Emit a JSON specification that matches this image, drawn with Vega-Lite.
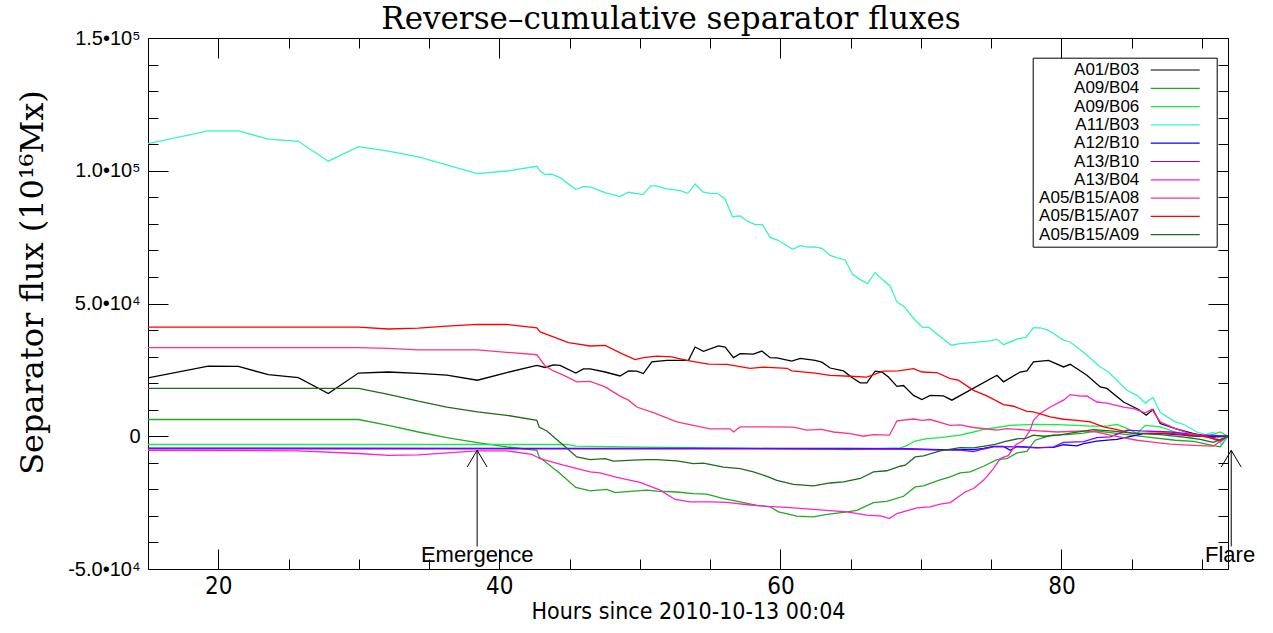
{
"$schema": "https://vega.github.io/schema/vega-lite/v6.json",
"width": 1080, "height": 531,
"autosize": {"type": "none"},
"padding": {"left": 148, "top": 38, "right": 45, "bottom": 64},
"background": "white",
"title": {"text": "Reverse–cumulative separator fluxes", "font": "DejaVu Serif", "fontSize": 31, "fontWeight": "normal", "color": "black", "anchor": "middle", "dx": -17, "offset": -8},
"datasets": {
"flux": [
{"s":"A01/B03","h":15,"v":22000},{"s":"A01/B03","h":19.29,"v":26400},{"s":"A01/B03","h":21.43,"v":26300},{"s":"A01/B03","h":23.56,"v":23200},{"s":"A01/B03","h":25.7,"v":22100},{"s":"A01/B03","h":27.83,"v":16100},{"s":"A01/B03","h":29.97,"v":23800},{"s":"A01/B03","h":32.1,"v":24200},{"s":"A01/B03","h":34.24,"v":23700},{"s":"A01/B03","h":36.26,"v":23000},{"s":"A01/B03","h":38.44,"v":21100},{"s":"A01/B03","h":40.53,"v":24000},{"s":"A01/B03","h":42.67,"v":26700},{"s":"A01/B03","h":43.26,"v":25900},{"s":"A01/B03","h":43.85,"v":26900},{"s":"A01/B03","h":44.32,"v":26700},{"s":"A01/B03","h":45.44,"v":23800},{"s":"A01/B03","h":45.98,"v":25400},{"s":"A01/B03","h":46.46,"v":25400},{"s":"A01/B03","h":47.53,"v":24200},{"s":"A01/B03","h":48.59,"v":22700},{"s":"A01/B03","h":49.19,"v":24600},{"s":"A01/B03","h":49.78,"v":24500},{"s":"A01/B03","h":50.25,"v":23600},{"s":"A01/B03","h":50.85,"v":28000},{"s":"A01/B03","h":51.92,"v":28600},{"s":"A01/B03","h":52.87,"v":28600},{"s":"A01/B03","h":53.46,"v":28600},{"s":"A01/B03","h":53.93,"v":33600},{"s":"A01/B03","h":54.52,"v":32000},{"s":"A01/B03","h":55.59,"v":34000},{"s":"A01/B03","h":56.07,"v":33600},{"s":"A01/B03","h":56.66,"v":29600},{"s":"A01/B03","h":57.14,"v":31100},{"s":"A01/B03","h":58.08,"v":30900},{"s":"A01/B03","h":58.68,"v":32100},{"s":"A01/B03","h":59.27,"v":29600},{"s":"A01/B03","h":59.75,"v":29500},{"s":"A01/B03","h":60.81,"v":28300},{"s":"A01/B03","h":61.41,"v":29300},{"s":"A01/B03","h":62.47,"v":28600},{"s":"A01/B03","h":62.95,"v":27900},{"s":"A01/B03","h":63.54,"v":25700},{"s":"A01/B03","h":64.49,"v":24600},{"s":"A01/B03","h":65.09,"v":22100},{"s":"A01/B03","h":65.68,"v":20100},{"s":"A01/B03","h":66.15,"v":20100},{"s":"A01/B03","h":66.74,"v":24500},{"s":"A01/B03","h":67.22,"v":24200},{"s":"A01/B03","h":67.69,"v":22300},{"s":"A01/B03","h":68.29,"v":18800},{"s":"A01/B03","h":68.76,"v":19100},{"s":"A01/B03","h":69.47,"v":15400},{"s":"A01/B03","h":70.07,"v":13800},{"s":"A01/B03","h":70.66,"v":15400},{"s":"A01/B03","h":71.6,"v":15200},{"s":"A01/B03","h":72.2,"v":13600},{"s":"A01/B03","h":73.27,"v":16700},{"s":"A01/B03","h":75.41,"v":23000},{"s":"A01/B03","h":75.88,"v":20500},{"s":"A01/B03","h":77.06,"v":24200},{"s":"A01/B03","h":77.54,"v":24600},{"s":"A01/B03","h":78.01,"v":28000},{"s":"A01/B03","h":79.08,"v":28600},{"s":"A01/B03","h":80.15,"v":26100},{"s":"A01/B03","h":80.62,"v":27100},{"s":"A01/B03","h":81.81,"v":23000},{"s":"A01/B03","h":82.76,"v":18600},{"s":"A01/B03","h":83.23,"v":18000},{"s":"A01/B03","h":84.42,"v":12900},{"s":"A01/B03","h":85.48,"v":10100},{"s":"A01/B03","h":86.03,"v":7900},{"s":"A01/B03","h":86.51,"v":10100},{"s":"A01/B03","h":87.03,"v":4800},{"s":"A01/B03","h":88.1,"v":2900},{"s":"A01/B03","h":89.4,"v":1000},{"s":"A01/B03","h":90.71,"v":-300},{"s":"A01/B03","h":91.85,"v":0},
{"s":"A09/B04","h":15,"v":6300},{"s":"A09/B04","h":29.97,"v":6300},{"s":"A09/B04","h":32.1,"v":4100},{"s":"A09/B04","h":34.24,"v":1600},{"s":"A09/B04","h":36.26,"v":-500},{"s":"A09/B04","h":38.44,"v":-2400},{"s":"A09/B04","h":40.53,"v":-4000},{"s":"A09/B04","h":42.67,"v":-5300},{"s":"A09/B04","h":42.83,"v":-7800},{"s":"A09/B04","h":44.32,"v":-14000},{"s":"A09/B04","h":45.44,"v":-19300},{"s":"A09/B04","h":46.46,"v":-20600},{"s":"A09/B04","h":47.65,"v":-20000},{"s":"A09/B04","h":48.24,"v":-21200},{"s":"A09/B04","h":49.54,"v":-20700},{"s":"A09/B04","h":50.49,"v":-20300},{"s":"A09/B04","h":51.21,"v":-20700},{"s":"A09/B04","h":52.63,"v":-21000},{"s":"A09/B04","h":53.81,"v":-21600},{"s":"A09/B04","h":54.76,"v":-21800},{"s":"A09/B04","h":55.95,"v":-23500},{"s":"A09/B04","h":57.14,"v":-24700},{"s":"A09/B04","h":58.32,"v":-26000},{"s":"A09/B04","h":59.27,"v":-26600},{"s":"A09/B04","h":59.87,"v":-28500},{"s":"A09/B04","h":61.17,"v":-30100},{"s":"A09/B04","h":62.35,"v":-30400},{"s":"A09/B04","h":63.31,"v":-29400},{"s":"A09/B04","h":64.49,"v":-28700},{"s":"A09/B04","h":65.44,"v":-27900},{"s":"A09/B04","h":66.62,"v":-25000},{"s":"A09/B04","h":67.57,"v":-24500},{"s":"A09/B04","h":68.76,"v":-22600},{"s":"A09/B04","h":69.59,"v":-19100},{"s":"A09/B04","h":70.18,"v":-18700},{"s":"A09/B04","h":71.25,"v":-16600},{"s":"A09/B04","h":72.08,"v":-15300},{"s":"A09/B04","h":72.79,"v":-13800},{"s":"A09/B04","h":73.5,"v":-13400},{"s":"A09/B04","h":74.45,"v":-11300},{"s":"A09/B04","h":75.41,"v":-8800},{"s":"A09/B04","h":76.12,"v":-8400},{"s":"A09/B04","h":76.83,"v":-6300},{"s":"A09/B04","h":77.54,"v":-5700},{"s":"A09/B04","h":78.13,"v":-1500},{"s":"A09/B04","h":78.72,"v":-500},{"s":"A09/B04","h":79.32,"v":400},{"s":"A09/B04","h":80.39,"v":600},{"s":"A09/B04","h":81.57,"v":1200},{"s":"A09/B04","h":82.52,"v":2000},{"s":"A09/B04","h":83.47,"v":1400},{"s":"A09/B04","h":85.13,"v":300},{"s":"A09/B04","h":86.44,"v":-500},{"s":"A09/B04","h":88.1,"v":-1500},{"s":"A09/B04","h":89.4,"v":-1900},{"s":"A09/B04","h":90.8,"v":-3500},{"s":"A09/B04","h":91.3,"v":-4000},{"s":"A09/B04","h":91.85,"v":0},
{"s":"A09/B06","h":15,"v":-3100},{"s":"A09/B06","h":44.8,"v":-3100},{"s":"A09/B06","h":45.44,"v":-3700},{"s":"A09/B06","h":50.49,"v":-4100},{"s":"A09/B06","h":56.66,"v":-4500},{"s":"A09/B06","h":64.96,"v":-5000},{"s":"A09/B06","h":68.52,"v":-4400},{"s":"A09/B06","h":68.88,"v":-3800},{"s":"A09/B06","h":69.59,"v":-1800},{"s":"A09/B06","h":70.42,"v":-900},{"s":"A09/B06","h":71.37,"v":-500},{"s":"A09/B06","h":72.79,"v":400},{"s":"A09/B06","h":73.74,"v":1600},{"s":"A09/B06","h":74.45,"v":2600},{"s":"A09/B06","h":75.41,"v":3300},{"s":"A09/B06","h":76.35,"v":4100},{"s":"A09/B06","h":78.01,"v":4500},{"s":"A09/B06","h":79.68,"v":4400},{"s":"A09/B06","h":81.1,"v":4100},{"s":"A09/B06","h":82.05,"v":3800},{"s":"A09/B06","h":83.23,"v":3800},{"s":"A09/B06","h":83.95,"v":4500},{"s":"A09/B06","h":84.66,"v":3000},{"s":"A09/B06","h":85.37,"v":1000},{"s":"A09/B06","h":85.96,"v":4100},{"s":"A09/B06","h":87.03,"v":3500},{"s":"A09/B06","h":88.1,"v":1600},{"s":"A09/B06","h":89.16,"v":-200},{"s":"A09/B06","h":90.59,"v":400},{"s":"A09/B06","h":91.3,"v":1600},{"s":"A09/B06","h":91.85,"v":0},
{"s":"A11/B03","h":15,"v":110200},{"s":"A11/B03","h":19.29,"v":115000},{"s":"A11/B03","h":21.43,"v":115000},{"s":"A11/B03","h":23.56,"v":111900},{"s":"A11/B03","h":25.7,"v":111100},{"s":"A11/B03","h":27.83,"v":103600},{"s":"A11/B03","h":29.97,"v":109100},{"s":"A11/B03","h":32.1,"v":107400},{"s":"A11/B03","h":34.24,"v":105200},{"s":"A11/B03","h":38.44,"v":98900},{"s":"A11/B03","h":40.53,"v":99900},{"s":"A11/B03","h":42.67,"v":101700},{"s":"A11/B03","h":42.9,"v":99900},{"s":"A11/B03","h":43.26,"v":98600},{"s":"A11/B03","h":43.73,"v":98700},{"s":"A11/B03","h":44.32,"v":97400},{"s":"A11/B03","h":45.44,"v":93000},{"s":"A11/B03","h":45.98,"v":94000},{"s":"A11/B03","h":46.46,"v":93900},{"s":"A11/B03","h":47.53,"v":91800},{"s":"A11/B03","h":48.59,"v":90300},{"s":"A11/B03","h":49.19,"v":91900},{"s":"A11/B03","h":50.2,"v":91000},{"s":"A11/B03","h":50.78,"v":94300},{"s":"A11/B03","h":51.21,"v":94300},{"s":"A11/B03","h":51.8,"v":93300},{"s":"A11/B03","h":52.87,"v":92500},{"s":"A11/B03","h":53.41,"v":91500},{"s":"A11/B03","h":53.93,"v":95000},{"s":"A11/B03","h":54.48,"v":92000},{"s":"A11/B03","h":55.0,"v":91500},{"s":"A11/B03","h":55.52,"v":91500},{"s":"A11/B03","h":56.07,"v":89300},{"s":"A11/B03","h":56.59,"v":82700},{"s":"A11/B03","h":57.14,"v":83000},{"s":"A11/B03","h":57.66,"v":81000},{"s":"A11/B03","h":58.2,"v":79700},{"s":"A11/B03","h":58.72,"v":79700},{"s":"A11/B03","h":59.27,"v":74900},{"s":"A11/B03","h":59.79,"v":73900},{"s":"A11/B03","h":60.34,"v":72200},{"s":"A11/B03","h":60.86,"v":70400},{"s":"A11/B03","h":61.41,"v":71800},{"s":"A11/B03","h":61.93,"v":71200},{"s":"A11/B03","h":62.47,"v":71300},{"s":"A11/B03","h":62.99,"v":70700},{"s":"A11/B03","h":63.54,"v":68100},{"s":"A11/B03","h":64.06,"v":67200},{"s":"A11/B03","h":64.61,"v":66400},{"s":"A11/B03","h":65.13,"v":61000},{"s":"A11/B03","h":65.68,"v":59000},{"s":"A11/B03","h":66.2,"v":57500},{"s":"A11/B03","h":66.74,"v":61700},{"s":"A11/B03","h":67.26,"v":59000},{"s":"A11/B03","h":67.81,"v":56600},{"s":"A11/B03","h":68.29,"v":50600},{"s":"A11/B03","h":68.81,"v":48800},{"s":"A11/B03","h":69.59,"v":43700},{"s":"A11/B03","h":70.11,"v":41100},{"s":"A11/B03","h":70.59,"v":40900},{"s":"A11/B03","h":72.15,"v":34300},{"s":"A11/B03","h":72.79,"v":34900},{"s":"A11/B03","h":74.81,"v":35800},{"s":"A11/B03","h":75.41,"v":36500},{"s":"A11/B03","h":75.88,"v":34500},{"s":"A11/B03","h":76.94,"v":36800},{"s":"A11/B03","h":77.47,"v":37200},{"s":"A11/B03","h":78.01,"v":40900},{"s":"A11/B03","h":78.49,"v":40800},{"s":"A11/B03","h":79.08,"v":39900},{"s":"A11/B03","h":80.15,"v":36200},{"s":"A11/B03","h":80.62,"v":35500},{"s":"A11/B03","h":81.69,"v":31100},{"s":"A11/B03","h":82.76,"v":26100},{"s":"A11/B03","h":83.35,"v":24200},{"s":"A11/B03","h":84.66,"v":17300},{"s":"A11/B03","h":85.37,"v":15400},{"s":"A11/B03","h":85.96,"v":12500},{"s":"A11/B03","h":86.51,"v":14600},{"s":"A11/B03","h":87.03,"v":8900},{"s":"A11/B03","h":88.1,"v":5400},{"s":"A11/B03","h":88.69,"v":4500},{"s":"A11/B03","h":89.64,"v":1600},{"s":"A11/B03","h":90.23,"v":600},{"s":"A11/B03","h":90.8,"v":1500},{"s":"A11/B03","h":91.35,"v":-3000},{"s":"A11/B03","h":91.85,"v":0},
{"s":"A12/B10","h":15,"v":-4500},{"s":"A12/B10","h":64.96,"v":-4600},{"s":"A12/B10","h":68.76,"v":-4700},{"s":"A12/B10","h":71.37,"v":-5000},{"s":"A12/B10","h":73.74,"v":-5000},{"s":"A12/B10","h":74.45,"v":-4600},{"s":"A12/B10","h":75.16,"v":-3800},{"s":"A12/B10","h":75.88,"v":-3800},{"s":"A12/B10","h":76.35,"v":-5300},{"s":"A12/B10","h":76.83,"v":-3800},{"s":"A12/B10","h":78.25,"v":-4300},{"s":"A12/B10","h":79.44,"v":-4200},{"s":"A12/B10","h":80.15,"v":-3200},{"s":"A12/B10","h":81.1,"v":-3600},{"s":"A12/B10","h":81.57,"v":-2800},{"s":"A12/B10","h":82.52,"v":-1800},{"s":"A12/B10","h":83.47,"v":-1400},{"s":"A12/B10","h":83.95,"v":-1200},{"s":"A12/B10","h":85.84,"v":1000},{"s":"A12/B10","h":87.26,"v":1000},{"s":"A12/B10","h":89.88,"v":0},{"s":"A12/B10","h":91.85,"v":0},
{"s":"A13/B10","h":15,"v":-4700},{"s":"A13/B10","h":64.96,"v":-4800},{"s":"A13/B10","h":68.76,"v":-4800},{"s":"A13/B10","h":71.37,"v":-5200},{"s":"A13/B10","h":72.79,"v":-5200},{"s":"A13/B10","h":73.74,"v":-5800},{"s":"A13/B10","h":74.45,"v":-4800},{"s":"A13/B10","h":75.16,"v":-4000},{"s":"A13/B10","h":75.88,"v":-3900},{"s":"A13/B10","h":76.83,"v":-4000},{"s":"A13/B10","h":78.25,"v":-4400},{"s":"A13/B10","h":79.44,"v":-4000},{"s":"A13/B10","h":80.15,"v":-2300},{"s":"A13/B10","h":81.57,"v":-2000},{"s":"A13/B10","h":82.52,"v":-500},{"s":"A13/B10","h":83.47,"v":-200},{"s":"A13/B10","h":84.66,"v":2300},{"s":"A13/B10","h":85.6,"v":2000},{"s":"A13/B10","h":87.74,"v":1600},{"s":"A13/B10","h":89.88,"v":500},{"s":"A13/B10","h":91.85,"v":0},
{"s":"A13/B04","h":15,"v":-5300},{"s":"A13/B04","h":25.7,"v":-5500},{"s":"A13/B04","h":29.97,"v":-6500},{"s":"A13/B04","h":32.1,"v":-7200},{"s":"A13/B04","h":34.24,"v":-7000},{"s":"A13/B04","h":38.44,"v":-5500},{"s":"A13/B04","h":40.53,"v":-5500},{"s":"A13/B04","h":42.31,"v":-6800},{"s":"A13/B04","h":42.67,"v":-7800},{"s":"A13/B04","h":42.9,"v":-8400},{"s":"A13/B04","h":44.56,"v":-10900},{"s":"A13/B04","h":46.46,"v":-13400},{"s":"A13/B04","h":47.17,"v":-13800},{"s":"A13/B04","h":48.36,"v":-15500},{"s":"A13/B04","h":50.02,"v":-17400},{"s":"A13/B04","h":51.44,"v":-20300},{"s":"A13/B04","h":52.51,"v":-23800},{"s":"A13/B04","h":53.58,"v":-24700},{"s":"A13/B04","h":55.0,"v":-24700},{"s":"A13/B04","h":56.19,"v":-24900},{"s":"A13/B04","h":57.85,"v":-25900},{"s":"A13/B04","h":59.04,"v":-26400},{"s":"A13/B04","h":60.69,"v":-26900},{"s":"A13/B04","h":62.59,"v":-27600},{"s":"A13/B04","h":64.73,"v":-28500},{"s":"A13/B04","h":66.15,"v":-29700},{"s":"A13/B04","h":67.22,"v":-30100},{"s":"A13/B04","h":67.76,"v":-31000},{"s":"A13/B04","h":68.29,"v":-29100},{"s":"A13/B04","h":69.71,"v":-27000},{"s":"A13/B04","h":70.66,"v":-26600},{"s":"A13/B04","h":71.37,"v":-25600},{"s":"A13/B04","h":72.08,"v":-25000},{"s":"A13/B04","h":73.15,"v":-21000},{"s":"A13/B04","h":73.74,"v":-19700},{"s":"A13/B04","h":74.45,"v":-16600},{"s":"A13/B04","h":75.16,"v":-12200},{"s":"A13/B04","h":75.64,"v":-8400},{"s":"A13/B04","h":76.23,"v":-7200},{"s":"A13/B04","h":76.71,"v":-3400},{"s":"A13/B04","h":77.3,"v":-1500},{"s":"A13/B04","h":77.77,"v":2300},{"s":"A13/B04","h":78.01,"v":6000},{"s":"A13/B04","h":78.49,"v":8600},{"s":"A13/B04","h":79.2,"v":11000},{"s":"A13/B04","h":80.15,"v":13600},{"s":"A13/B04","h":80.62,"v":15700},{"s":"A13/B04","h":81.33,"v":15100},{"s":"A13/B04","h":81.81,"v":15200},{"s":"A13/B04","h":82.52,"v":12900},{"s":"A13/B04","h":83.23,"v":12500},{"s":"A13/B04","h":84.42,"v":11000},{"s":"A13/B04","h":85.13,"v":10400},{"s":"A13/B04","h":85.96,"v":8800},{"s":"A13/B04","h":86.44,"v":10100},{"s":"A13/B04","h":87.03,"v":5400},{"s":"A13/B04","h":88.1,"v":2900},{"s":"A13/B04","h":89.16,"v":1000},{"s":"A13/B04","h":90.59,"v":-500},{"s":"A13/B04","h":91.3,"v":-2100},{"s":"A13/B04","h":91.85,"v":0},
{"s":"A05/B15/A08","h":15,"v":33400},{"s":"A05/B15/A08","h":29.97,"v":33400},{"s":"A05/B15/A08","h":32.1,"v":33100},{"s":"A05/B15/A08","h":34.24,"v":32500},{"s":"A05/B15/A08","h":38.44,"v":32500},{"s":"A05/B15/A08","h":40.53,"v":31600},{"s":"A05/B15/A08","h":42.67,"v":30700},{"s":"A05/B15/A08","h":43.26,"v":26500},{"s":"A05/B15/A08","h":43.85,"v":24600},{"s":"A05/B15/A08","h":44.56,"v":23000},{"s":"A05/B15/A08","h":45.51,"v":20500},{"s":"A05/B15/A08","h":46.46,"v":20700},{"s":"A05/B15/A08","h":47.53,"v":18600},{"s":"A05/B15/A08","h":48.59,"v":15100},{"s":"A05/B15/A08","h":49.19,"v":13600},{"s":"A05/B15/A08","h":49.78,"v":11000},{"s":"A05/B15/A08","h":50.96,"v":8900},{"s":"A05/B15/A08","h":52.63,"v":5400},{"s":"A05/B15/A08","h":53.81,"v":4100},{"s":"A05/B15/A08","h":55.0,"v":2800},{"s":"A05/B15/A08","h":56.42,"v":2800},{"s":"A05/B15/A08","h":56.66,"v":1600},{"s":"A05/B15/A08","h":57.14,"v":3500},{"s":"A05/B15/A08","h":59.04,"v":3500},{"s":"A05/B15/A08","h":60.93,"v":3400},{"s":"A05/B15/A08","h":61.88,"v":2300},{"s":"A05/B15/A08","h":62.95,"v":2600},{"s":"A05/B15/A08","h":63.78,"v":1600},{"s":"A05/B15/A08","h":64.96,"v":1000},{"s":"A05/B15/A08","h":65.92,"v":0},{"s":"A05/B15/A08","h":66.62,"v":600},{"s":"A05/B15/A08","h":67.76,"v":400},{"s":"A05/B15/A08","h":68.29,"v":5800},{"s":"A05/B15/A08","h":69.47,"v":6500},{"s":"A05/B15/A08","h":70.07,"v":6000},{"s":"A05/B15/A08","h":70.66,"v":6300},{"s":"A05/B15/A08","h":72.08,"v":4100},{"s":"A05/B15/A08","h":72.79,"v":4300},{"s":"A05/B15/A08","h":73.74,"v":3300},{"s":"A05/B15/A08","h":75.41,"v":2300},{"s":"A05/B15/A08","h":76.12,"v":2900},{"s":"A05/B15/A08","h":77.54,"v":2300},{"s":"A05/B15/A08","h":79.68,"v":1600},{"s":"A05/B15/A08","h":81.57,"v":2000},{"s":"A05/B15/A08","h":82.52,"v":1600},{"s":"A05/B15/A08","h":83.47,"v":400},{"s":"A05/B15/A08","h":85.37,"v":-1500},{"s":"A05/B15/A08","h":86.32,"v":-2100},{"s":"A05/B15/A08","h":87.74,"v":-3000},{"s":"A05/B15/A08","h":89.4,"v":-3400},{"s":"A05/B15/A08","h":90.8,"v":-3700},{"s":"A05/B15/A08","h":91.85,"v":0},
{"s":"A05/B15/A07","h":15,"v":41100},{"s":"A05/B15/A07","h":29.97,"v":41100},{"s":"A05/B15/A07","h":32.1,"v":40400},{"s":"A05/B15/A07","h":34.24,"v":40700},{"s":"A05/B15/A07","h":36.26,"v":41500},{"s":"A05/B15/A07","h":38.44,"v":42100},{"s":"A05/B15/A07","h":40.53,"v":42100},{"s":"A05/B15/A07","h":42.67,"v":40800},{"s":"A05/B15/A07","h":42.9,"v":39300},{"s":"A05/B15/A07","h":43.85,"v":37400},{"s":"A05/B15/A07","h":44.91,"v":35300},{"s":"A05/B15/A07","h":45.39,"v":34900},{"s":"A05/B15/A07","h":46.46,"v":34000},{"s":"A05/B15/A07","h":47.53,"v":34200},{"s":"A05/B15/A07","h":48.71,"v":31100},{"s":"A05/B15/A07","h":49.66,"v":28900},{"s":"A05/B15/A07","h":50.25,"v":29600},{"s":"A05/B15/A07","h":51.21,"v":30200},{"s":"A05/B15/A07","h":52.27,"v":29900},{"s":"A05/B15/A07","h":53.34,"v":28600},{"s":"A05/B15/A07","h":54.88,"v":27200},{"s":"A05/B15/A07","h":56.19,"v":27100},{"s":"A05/B15/A07","h":57.85,"v":25600},{"s":"A05/B15/A07","h":58.79,"v":26000},{"s":"A05/B15/A07","h":60.46,"v":25600},{"s":"A05/B15/A07","h":60.81,"v":24600},{"s":"A05/B15/A07","h":62.47,"v":23800},{"s":"A05/B15/A07","h":63.54,"v":22900},{"s":"A05/B15/A07","h":64.96,"v":22600},{"s":"A05/B15/A07","h":66.15,"v":22300},{"s":"A05/B15/A07","h":67.33,"v":24500},{"s":"A05/B15/A07","h":68.4,"v":24600},{"s":"A05/B15/A07","h":69.47,"v":25500},{"s":"A05/B15/A07","h":70.07,"v":24200},{"s":"A05/B15/A07","h":71.13,"v":24000},{"s":"A05/B15/A07","h":72.08,"v":21700},{"s":"A05/B15/A07","h":72.67,"v":21100},{"s":"A05/B15/A07","h":73.74,"v":17300},{"s":"A05/B15/A07","h":74.69,"v":15200},{"s":"A05/B15/A07","h":75.88,"v":11900},{"s":"A05/B15/A07","h":76.59,"v":11300},{"s":"A05/B15/A07","h":77.54,"v":9400},{"s":"A05/B15/A07","h":78.01,"v":9200},{"s":"A05/B15/A07","h":79.2,"v":7300},{"s":"A05/B15/A07","h":80.15,"v":6400},{"s":"A05/B15/A07","h":81.1,"v":6000},{"s":"A05/B15/A07","h":82.05,"v":5400},{"s":"A05/B15/A07","h":82.99,"v":3500},{"s":"A05/B15/A07","h":83.95,"v":2500},{"s":"A05/B15/A07","h":85.13,"v":1000},{"s":"A05/B15/A07","h":86.32,"v":1200},{"s":"A05/B15/A07","h":87.5,"v":1200},{"s":"A05/B15/A07","h":88.69,"v":600},{"s":"A05/B15/A07","h":90.11,"v":0},{"s":"A05/B15/A07","h":91.3,"v":-1500},{"s":"A05/B15/A07","h":91.85,"v":0},
{"s":"A05/B15/A09","h":15,"v":18000},{"s":"A05/B15/A09","h":29.97,"v":18000},{"s":"A05/B15/A09","h":32.1,"v":15800},{"s":"A05/B15/A09","h":34.24,"v":13200},{"s":"A05/B15/A09","h":36.26,"v":11000},{"s":"A05/B15/A09","h":38.44,"v":9200},{"s":"A05/B15/A09","h":40.53,"v":7900},{"s":"A05/B15/A09","h":42.67,"v":6000},{"s":"A05/B15/A09","h":42.83,"v":3500},{"s":"A05/B15/A09","h":43.38,"v":2000},{"s":"A05/B15/A09","h":44.56,"v":-3400},{"s":"A05/B15/A09","h":45.51,"v":-7800},{"s":"A05/B15/A09","h":46.46,"v":-8800},{"s":"A05/B15/A09","h":47.53,"v":-8400},{"s":"A05/B15/A09","h":48.12,"v":-9400},{"s":"A05/B15/A09","h":49.54,"v":-9000},{"s":"A05/B15/A09","h":50.49,"v":-8800},{"s":"A05/B15/A09","h":51.21,"v":-8800},{"s":"A05/B15/A09","h":52.63,"v":-9300},{"s":"A05/B15/A09","h":53.81,"v":-10300},{"s":"A05/B15/A09","h":54.52,"v":-10100},{"s":"A05/B15/A09","h":55.95,"v":-11600},{"s":"A05/B15/A09","h":57.14,"v":-12200},{"s":"A05/B15/A09","h":58.08,"v":-13400},{"s":"A05/B15/A09","h":59.04,"v":-15100},{"s":"A05/B15/A09","h":59.75,"v":-16600},{"s":"A05/B15/A09","h":60.93,"v":-18100},{"s":"A05/B15/A09","h":62.35,"v":-18700},{"s":"A05/B15/A09","h":63.54,"v":-17600},{"s":"A05/B15/A09","h":64.49,"v":-17200},{"s":"A05/B15/A09","h":65.68,"v":-15900},{"s":"A05/B15/A09","h":66.62,"v":-13400},{"s":"A05/B15/A09","h":67.57,"v":-13000},{"s":"A05/B15/A09","h":68.52,"v":-11300},{"s":"A05/B15/A09","h":68.88,"v":-10900},{"s":"A05/B15/A09","h":69.59,"v":-7800},{"s":"A05/B15/A09","h":70.18,"v":-7400},{"s":"A05/B15/A09","h":71.37,"v":-5500},{"s":"A05/B15/A09","h":72.79,"v":-4300},{"s":"A05/B15/A09","h":73.74,"v":-4400},{"s":"A05/B15/A09","h":75.28,"v":-3100},{"s":"A05/B15/A09","h":76.0,"v":-1900},{"s":"A05/B15/A09","h":76.94,"v":-900},{"s":"A05/B15/A09","h":77.42,"v":-900},{"s":"A05/B15/A09","h":78.01,"v":400},{"s":"A05/B15/A09","h":78.72,"v":0},{"s":"A05/B15/A09","h":79.79,"v":400},{"s":"A05/B15/A09","h":80.86,"v":1400},{"s":"A05/B15/A09","h":82.28,"v":2500},{"s":"A05/B15/A09","h":83.47,"v":2000},{"s":"A05/B15/A09","h":84.9,"v":1300},{"s":"A05/B15/A09","h":87.03,"v":600},{"s":"A05/B15/A09","h":88.69,"v":-300},{"s":"A05/B15/A09","h":89.88,"v":-1200},{"s":"A05/B15/A09","h":90.8,"v":-2300},{"s":"A05/B15/A09","h":91.85,"v":0}
],
"ann": [
{"x":38.42,"y":-41500,"x2":38.42,"y2":-5300},{"x":37.71,"y":-11600,"x2":38.42,"y2":-5300},{"x":39.13,"y":-11600,"x2":38.42,"y2":-5300},
{"x":92.08,"y":-41500,"x2":92.08,"y2":-5300},{"x":91.37,"y":-11600,"x2":92.08,"y2":-5300},{"x":92.79,"y":-11600,"x2":92.08,"y2":-5300}
],
"lbl": [{"t":"Emergence","x":38.42,"y":-44800},{"t":"Flare","x":92.0,"y":-44800}]
},
"layer": [
{"data": {"name": "flux"},
 "mark": {"type": "line", "strokeWidth": 1.3, "clip": true},
 "encoding": {
  "x": {"field": "h", "type": "quantitative", "scale": {"domain": [15, 91.85], "nice": false, "zero": false},
        "axis": {"orient": "bottom", "values": [20, 40, 60, 80], "ticks": false, "domain": false, "grid": false, "labelFont": "Liberation Sans Narrow, DejaVu Sans Condensed, sans-serif", "labelFontSize": 24, "labelPadding": 5, "labelColor": "black", "labelFlush": false,
                 "title": "Hours since 2010-10-13 00:04", "titleFont": "Liberation Sans Narrow, DejaVu Sans Condensed, sans-serif", "titleFontSize": 23, "titleFontWeight": "normal", "titleColor": "black", "titlePadding": 2}},
  "y": {"field": "v", "type": "quantitative", "scale": {"domain": [-50000, 150000], "nice": false, "zero": false},
        "axis": {"orient": "left", "values": [-50000, 0, 50000, 100000, 150000], "ticks": false, "domain": false, "grid": false, "labelOverlap": false,
                 "labelExpr": "datum.value == 0 ? '0' : datum.value == 150000 ? '1.5•10⁵' : datum.value == 100000 ? '1.0•10⁵' : datum.value == 50000 ? '5.0•10⁴' : '-5.0•10⁴'",
                 "labelFont": "Liberation Sans", "labelFontSize": 20, "labelPadding": 8, "labelColor": "black",
                 "title": "Separator flux (10¹⁶Mx)", "titleFont": "DejaVu Serif", "titleFontSize": 32, "titleFontWeight": "normal", "titleColor": "black", "titleX": -116, "titleY": 244, "titleAlign": "center", "titleBaseline": "middle", "titleAngle": -90}},
  "color": {"field": "s", "type": "nominal",
    "scale": {"domain": ["A01/B03","A09/B04","A09/B06","A11/B03","A12/B10","A13/B10","A13/B04","A05/B15/A08","A05/B15/A07","A05/B15/A09"],
              "range": ["#000000","#22a822","#11ee44","#33f5c5","#0000ff","#8800ff","#ff22c8","#ff3385","#ff0000","#1d6b1d"]},
    "legend": {"orient": "none", "legendX": 884.7, "legendY": 19.7, "title": null, "direction": "vertical", "padding": 3.8, "rowPadding": 0.3,
               "labelFont": "Liberation Sans", "labelFontSize": 17, "labelColor": "black", "labelAlign": "right", "labelOffset": 85.8,
               "symbolType": "M105.7,0H154.7M165,0", "symbolSize": 4, "symbolStrokeWidth": 1.2,
               "strokeColor": "black", "fillColor": "white"}}
 }},
{"data": {"name": "ann"},
 "mark": {"type": "rule", "color": "black", "strokeWidth": 1},
 "encoding": {
  "x": {"field": "x", "type": "quantitative", "scale": {"domain": [15, 91.85], "nice": false, "zero": false},
        "axis": {"orient": "bottom", "values": [20, 40, 60, 80], "tickSize": -20, "tickColor": "black", "labels": false, "domain": true, "domainColor": "black", "grid": false, "title": null}},
  "x2": {"field": "x2"},
  "y": {"field": "y", "type": "quantitative", "scale": {"domain": [-50000, 150000], "nice": false, "zero": false},
        "axis": {"orient": "left", "values": [-50000, 0, 50000, 100000, 150000], "tickSize": -20, "tickColor": "black", "labels": false, "domain": true, "domainColor": "black", "grid": false, "title": null}},
  "y2": {"field": "y2"}
 }},
{"data": {"name": "lbl"},
 "mark": {"type": "text", "font": "Liberation Sans", "fontSize": 22, "color": "black", "align": "center", "baseline": "middle"},
 "encoding": {
  "x": {"field": "x", "type": "quantitative", "scale": {"domain": [15, 91.85], "nice": false, "zero": false},
        "axis": {"orient": "bottom", "values": [20,25,30,35,40,45,50,55,60,65,70,75,80,85,90], "tickSize": -10, "tickColor": "black", "labels": false, "domain": false, "grid": false, "title": null}},
  "y": {"field": "y", "type": "quantitative", "scale": {"domain": [-50000, 150000], "nice": false, "zero": false},
        "axis": {"orient": "left", "values": [-40000,-30000,-20000,-10000,0,10000,20000,30000,40000,50000,60000,70000,80000,90000,100000,110000,120000,130000,140000], "tickSize": -10, "tickColor": "black", "labels": false, "domain": false, "grid": false, "title": null}},
  "text": {"field": "t"}
 }},
{"data": {"name": "ann"},
 "mark": {"type": "rule", "opacity": 0},
 "encoding": {
  "x": {"field": "x", "type": "quantitative", "scale": {"domain": [15, 91.85], "nice": false, "zero": false},
        "axis": {"orient": "top", "values": [20, 40, 60, 80], "tickSize": -20, "tickColor": "black", "labels": false, "domain": true, "domainColor": "black", "grid": false, "title": null}},
  "y": {"field": "y", "type": "quantitative", "scale": {"domain": [-50000, 150000], "nice": false, "zero": false},
        "axis": {"orient": "right", "values": [-50000, 0, 50000, 100000, 150000], "tickSize": -20, "tickColor": "black", "labels": false, "domain": true, "domainColor": "black", "grid": false, "title": null}}
 }},
{"data": {"name": "ann"},
 "mark": {"type": "rule", "opacity": 0},
 "encoding": {
  "x": {"field": "x", "type": "quantitative", "scale": {"domain": [15, 91.85], "nice": false, "zero": false},
        "axis": {"orient": "top", "values": [20,25,30,35,40,45,50,55,60,65,70,75,80,85,90], "tickSize": -10, "tickColor": "black", "labels": false, "domain": false, "grid": false, "title": null}},
  "y": {"field": "y", "type": "quantitative", "scale": {"domain": [-50000, 150000], "nice": false, "zero": false},
        "axis": {"orient": "right", "values": [-40000,-30000,-20000,-10000,0,10000,20000,30000,40000,50000,60000,70000,80000,90000,100000,110000,120000,130000,140000], "tickSize": -10, "tickColor": "black", "labels": false, "domain": false, "grid": false, "title": null}}
 }}
],
"resolve": {"axis": {"x": "independent", "y": "independent"}},
"config": {"view": {"stroke": null}, "axis": {"grid": false}}
}
